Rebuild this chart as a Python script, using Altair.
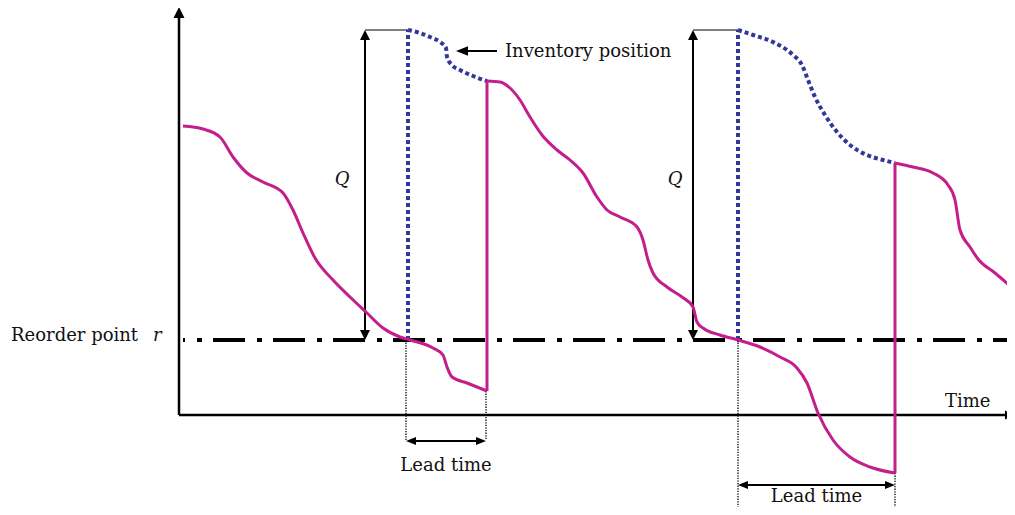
import altair as alt
import pandas as pd

# ---------------- data (diagram frame: x to the right, y downward, in px of the figure) ----------------
# on-hand stock (magenta), three cycles
stock1_x = [183, 203, 220, 233, 247, 263, 283, 293, 303, 315, 333, 350, 367, 383, 400, 410, 433, 443, 447, 452, 467, 487]
stock1_y = [126, 129, 137, 157, 173, 182, 193, 210, 233, 258, 280, 297, 313, 328, 337, 340, 348, 355, 367, 377, 383, 391]
stock2_x = [487, 500, 510, 520, 530, 542, 557, 570, 583, 597, 607, 620, 637, 643, 648, 653, 667, 682, 693, 697,
            703, 720, 738, 760, 780, 797, 807, 818, 833, 850, 870, 895]
stock2_y = [81, 82, 88, 100, 117, 135, 150, 160, 173, 197, 210, 217, 227, 240, 260, 273, 287, 297, 307, 322,
            328, 335, 340, 347, 357, 368, 383, 413, 440, 457, 467, 473]
stock3_x = [895, 913, 933, 948, 955, 960, 970, 978, 995, 1015]
stock3_y = [163, 167, 173, 185, 200, 230, 247, 259, 273, 290]
# replenishment jumps
replen_x = [487, 895]
replen_low = [391, 473]
replen_high = [81, 163]

# inventory position (blue dotted)
pos1_x = [408, 420, 430, 440, 446, 447, 452, 460, 473, 487]
pos1_y = [30, 33, 37, 42, 48, 57, 65, 70, 76, 81]
pos2_x = [738, 753, 773, 793, 802, 808, 815, 825, 837, 850, 867, 883, 895]
pos2_y = [30, 35, 42, 55, 65, 80, 97, 115, 132, 145, 155, 160, 163]
order_x = [408, 738]

# levels
reorder_y = 340
q_top_y = 30
q_arrow_x = [365, 693]

# axes
origin_x, origin_y = 179, 415
y_axis_tip = 7
x_axis_tip = 1016
reorder_start_x = 183

# lead times
lt_start = [406, 738]
lt_end = [486, 895]
lt_start_top = [340, 340]
lt_end_top = [391, 473]
lt_bottom = [440, 515]
lt_arrow_y = [441, 485]
lt_label_y = [471, 502]

# pointer for "Inventory position"
ptr_tip_x, ptr_end_x, ptr_y = 456, 497, 51

# labels
label_inv = "Inventory position"
label_reorder = "Reorder point"
label_r = "r"
label_q = "Q"
label_time = "Time"
label_lead = "Lead time"

MAG = "#C41E8C"
BLUE = "#34379A"
FONT = "DejaVu Serif"

# ---------------- scales ----------------
xs = alt.Scale(domain=[8, 1007], nice=False, zero=False)
ys = alt.Scale(domain=[8, 507], nice=False, zero=False, reverse=True)


def X(f="x"):
    return alt.X(f"{f}:Q", scale=xs, axis=None)


def Y(f="y"):
    return alt.Y(f"{f}:Q", scale=ys, axis=None)


def rules(df, **mk):
    return alt.Chart(df).mark_rule(**mk).encode(
        x=X("x"), x2=alt.X2("x2:Q"), y=Y("y"), y2=alt.Y2("y2:Q"))


layers = []

# axes
axes_df = pd.DataFrame({
    "x": [origin_x, origin_x], "x2": [origin_x, x_axis_tip - 8],
    "y": [origin_y, origin_y], "y2": [y_axis_tip + 8, origin_y]})
layers.append(rules(axes_df, color="black", strokeWidth=2.5))

# reorder point line
ro_df = pd.DataFrame({"x": [reorder_start_x], "x2": [1007], "y": [reorder_y], "y2": [reorder_y]})
layers.append(rules(ro_df, color="black", strokeWidth=4, strokeDash=[32, 12, 5, 11], strokeDashOffset=30))

# lead-time dotted guides
lt_guides = pd.DataFrame({
    "x": lt_start + lt_end, "x2": lt_start + lt_end,
    "y": lt_start_top + lt_end_top, "y2": lt_bottom + lt_bottom})
layers.append(rules(lt_guides, color="black", strokeWidth=1.3, strokeDash=[1.3, 1.3]))

# lead-time arrows shafts
lt_shaft = pd.DataFrame({"x": [s + 6 for s in lt_start], "x2": [e - 6 for e in lt_end],
                         "y": lt_arrow_y, "y2": lt_arrow_y})
layers.append(rules(lt_shaft, color="black", strokeWidth=2))

# Q arrows and tie lines
q_shaft = pd.DataFrame({"x": q_arrow_x, "x2": q_arrow_x,
                        "y": [q_top_y + 6] * 2, "y2": [reorder_y - 6] * 2})
layers.append(rules(q_shaft, color="black", strokeWidth=2))
tie = pd.DataFrame({"x": q_arrow_x, "x2": order_x, "y": [q_top_y] * 2, "y2": [q_top_y] * 2})
layers.append(rules(tie, color="black", strokeWidth=1))

# pointer shaft
ptr = pd.DataFrame({"x": [ptr_tip_x + 8], "x2": [ptr_end_x], "y": [ptr_y], "y2": [ptr_y]})
layers.append(rules(ptr, color="black", strokeWidth=2))

# inventory position: vertical order jumps + curves
ord_df = pd.DataFrame({"x": order_x, "x2": order_x, "y": [reorder_y] * 2, "y2": [q_top_y] * 2})
layers.append(rules(ord_df, color=BLUE, strokeWidth=4, strokeDash=[4, 3]))
pos_rows = []
for k, (xx, yy) in enumerate([(pos1_x, pos1_y), (pos2_x, pos2_y)]):
    for i, (a, b) in enumerate(zip(xx, yy)):
        pos_rows.append({"seg": k, "i": i, "x": a, "y": b})
pos_df = pd.DataFrame(pos_rows)
layers.append(alt.Chart(pos_df).mark_line(interpolate="monotone", color=BLUE, strokeWidth=4,
                                          strokeDash=[4, 3]).encode(
    x=X(), y=Y(), detail="seg:N", order="i:Q"))

# on-hand stock
st_rows = []
for k, (xx, yy) in enumerate([(stock1_x, stock1_y), (stock2_x, stock2_y), (stock3_x, stock3_y)]):
    for i, (a, b) in enumerate(zip(xx, yy)):
        st_rows.append({"seg": k, "i": i, "x": a, "y": b})
st_df = pd.DataFrame(st_rows)
layers.append(alt.Chart(st_df).mark_line(interpolate="monotone", color=MAG, strokeWidth=3).encode(
    x=X(), y=Y(), detail="seg:N", order="i:Q"))
rep_df = pd.DataFrame({"x": replen_x, "x2": replen_x, "y": replen_low, "y2": replen_high})
layers.append(rules(rep_df, color=MAG, strokeWidth=3))

# arrowheads
UP = "M0,-1L1,1L-1,1Z"
DOWN = "M0,1L1,-1L-1,-1Z"
LEFT = "M-1,0L1,-0.8L1,0.8Z"
RIGHT = "M1,0L-1,-0.8L-1,0.8Z"
heads = []
heads.append((origin_x, y_axis_tip + 5.5, UP, 121))
heads.append((x_axis_tip - 5.5, origin_y, RIGHT, 121))
for qx in q_arrow_x:
    heads.append((qx, q_top_y + 5, UP, 100))
    heads.append((qx, reorder_y - 5, DOWN, 100))
heads.append((ptr_tip_x + 6, ptr_y, LEFT, 144))
for s, e, ay in zip(lt_start, lt_end, lt_arrow_y):
    heads.append((s + 5, ay, LEFT, 100))
    heads.append((e - 5, ay, RIGHT, 100))
head_df = pd.DataFrame(heads, columns=["x", "y", "shape", "size"])
layers.append(alt.Chart(head_df).mark_point(filled=True, color="black", opacity=1, strokeWidth=0).encode(
    x=X(), y=Y(), shape=alt.Shape("shape:N", scale=None, legend=None),
    size=alt.Size("size:Q", scale=None, legend=None)))

# texts
def texts(df, **mk):
    base = dict(font=FONT, fontSize=18, color="#111111", baseline="alphabetic")
    base.update(mk)
    return alt.Chart(df).mark_text(**base).encode(x=X(), y=Y(), text="t:N")


layers.append(texts(pd.DataFrame({"x": [505], "y": [57], "t": [label_inv]}), align="left"))
layers.append(texts(pd.DataFrame({"x": [11], "y": [341], "t": [label_reorder]}), align="left"))
layers.append(texts(pd.DataFrame({"x": [153], "y": [341], "t": [label_r]}), align="left", fontStyle="italic"))
layers.append(texts(pd.DataFrame({"x": [342, 675], "y": [185, 185], "t": [label_q, label_q]}),
                    align="center", fontStyle="italic"))
layers.append(texts(pd.DataFrame({"x": [945], "y": [407], "t": [label_time]}), align="left"))
layers.append(texts(pd.DataFrame({"x": [(s + e) / 2 for s, e in zip(lt_start, lt_end)],
                                  "y": lt_label_y, "t": [label_lead] * 2}), align="center"))

chart = alt.layer(*layers).properties(
    width=999, height=499, padding=0,
    autosize=alt.AutoSizeParams(type="none"),
).configure_view(stroke=None)

chart.save("out.html", embed_options={"renderer": "svg", "actions": False})
